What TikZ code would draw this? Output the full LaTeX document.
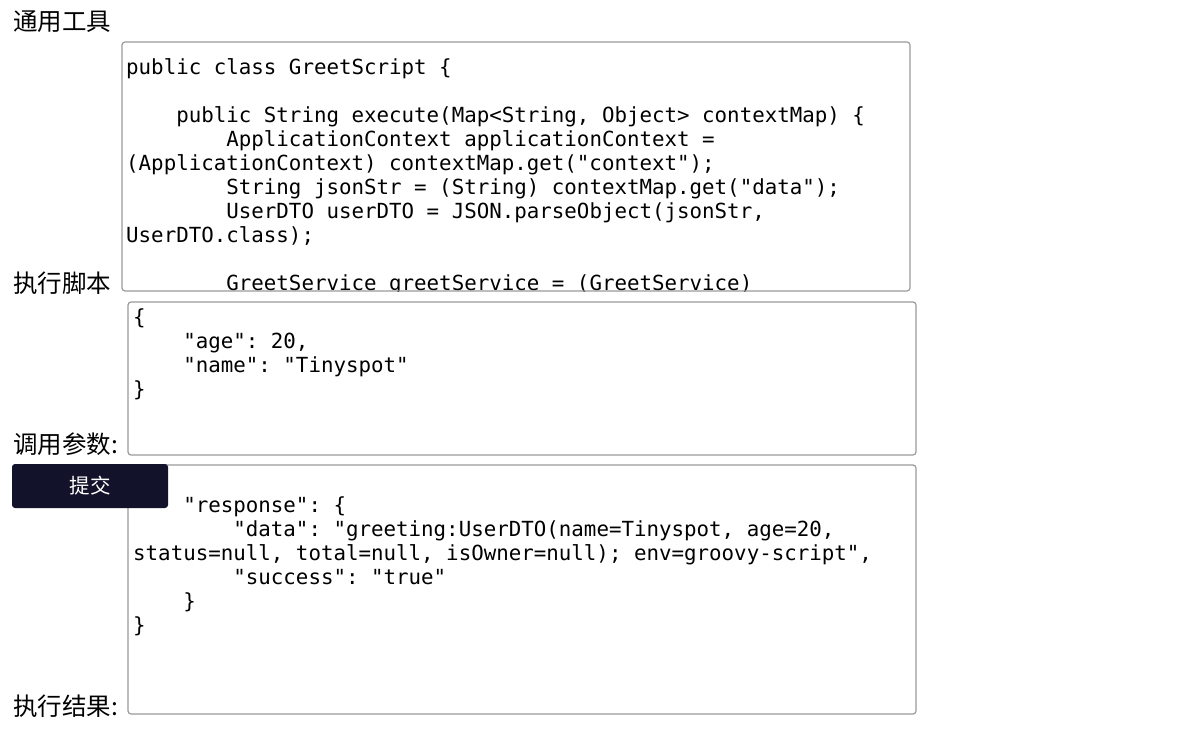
\documentclass[tikz,border=0pt]{standalone}
\usepackage{fontspec}
\setmonofont{DejaVu Sans Mono}
\newfontfamily\cjk{Noto Sans CJK SC}
\usepackage{tikz}

\definecolor{boxgray}{HTML}{9A9A9A}
\definecolor{btnnavy}{HTML}{12132B}
\newcommand{\tabA}{\phantom{xxxx}}
\newcommand{\tabB}{\phantom{xxxxxxxx}}

\tikzset{
  lbl/.style={anchor=west, inner sep=0pt, font=\cjk\fontsize{24.5}{28}\selectfont},
  code/.style={anchor=north west, inner sep=0pt, align=left, font=\ttfamily\fontsize{20.8}{24}\selectfont},
  field/.style={draw=boxgray, line width=1.2pt, rounded corners=3pt},
  btnbox/.style={fill=btnnavy, rounded corners=3pt, text=white, minimum width=156pt, minimum height=44pt, inner sep=0pt, font=\cjk\fontsize{20.5}{24}\selectfont}
}

\begin{document}
\begin{tikzpicture}[x=1pt,y=-1pt]
\useasboundingbox (0,0) rectangle (1200,733);
% labels
\node[lbl] (tool) at (13,22) {通用工具};
\node[lbl] (scriptlbl) at (13,283) {执行脚本};
\node[lbl] (paramlbl) at (13,444) {调用参数:};
\node[lbl] (resultlbl) at (13,706) {执行结果:};
% script field
\begin{scope}
\clip[rounded corners=3pt] (122,42) rectangle (910,291);
\node[code] (script) at (126,58) {public class GreetScript \{\\[24pt]
\tabA public String execute(Map<String, Object> contextMap) \{\\
\tabB ApplicationContext applicationContext =\\
(ApplicationContext) contextMap.get("context");\\
\tabB String jsonStr = (String) contextMap.get("data");\\
\tabB UserDTO userDTO = JSON.parseObject(jsonStr,\\
UserDTO.class);\\[24pt]
\tabB GreetService greetService = (GreetService)};
\end{scope}
\draw[field] (122,42) rectangle (910,291);
% param field
\node[code] (param) at (133,308) {\{\\
\tabA "age": 20,\\
\tabA "name": "Tinyspot"\\
\}};
\draw[field] (128,302) rectangle (916,455);
% result field
\node[code] (result) at (133,472) {\{\\
\tabA "response": \{\\
\tabB "data": "greeting:UserDTO(name=Tinyspot, age=20,\\
status=null, total=null, isOwner=null); env=groovy-script",\\
\tabB "success": "true"\\
\tabA \}\\
\}};
\draw[field] (128,465) rectangle (916,714);
% button
\node[btnbox] (submit) at (90,486) {提交};
\end{tikzpicture}
\end{document}
